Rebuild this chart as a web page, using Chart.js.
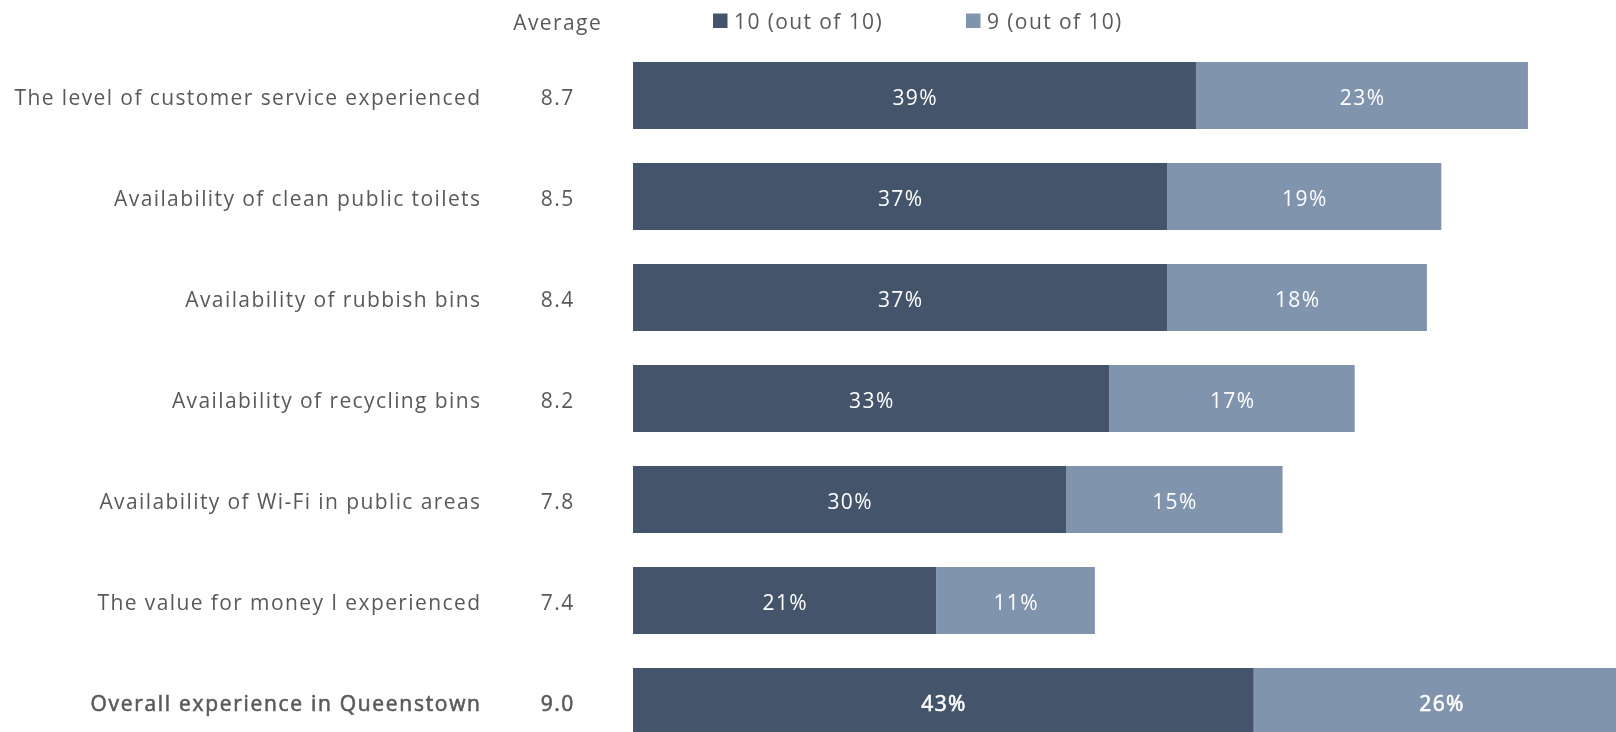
<!doctype html>
<html lang="en">
  <head>
    <meta charset="utf-8">
    <title>Experience ratings</title>
    <script src="https://cdn.jsdelivr.net/npm/chart.js@4.4.1/dist/chart.umd.min.js"></script>
    <style>
      html, body {
        margin: 0;
        padding: 0;
        background: #ffffff;
        overflow: hidden;
      }
      #wrap {
        position: absolute;
        left: 0;
        top: 0;
        width: 1616px;
        height: 752px;
      }
    </style>
  </head>
  <body>
    <div id="wrap">
      <canvas id="myChart" width="1616" height="752"></canvas>
    </div>
    <script>
      const categories = [
        'The level of customer service experienced',
        'Availability of clean public toilets',
        'Availability of rubbish bins',
        'Availability of recycling bins',
        'Availability of Wi-Fi in public areas',
        'The value for money I experienced',
        'Overall experience in Queenstown'
      ];
      const averages = ['8.7', '8.5', '8.4', '8.2', '7.8', '7.4', '9.0'];
      const tenValues = [39, 37, 37, 33, 30, 21, 43];
      const nineValues = [23, 19, 18, 17, 15, 11, 26];
      const seriesNames = ['10 (out of 10)', '9 (out of 10)'];
      const averageHeader = 'Average';

      const FONT = "'Open Sans', sans-serif";
      const SPACING = 1.4;
      const darkColor = '#44546a';
      const lightColor = '#8094ad';
      const textColor = '#595959';

      function setFont(ctx, spacing) {
        ctx.font = '400 21px ' + FONT;
        ctx.letterSpacing = spacing + 'px';
      }

      // medium weight faked with a thin outline
      function drawText(ctx, text, x, y, medium) {
        ctx.fillText(text, x, y);
        if (medium) {
          ctx.lineWidth = 0.6;
          ctx.strokeStyle = ctx.fillStyle;
          ctx.strokeText(text, x, y);
        }
      }

      // labels, averages column, header and legend drawn by hand
      const extrasPlugin = {
        id: 'extras',
        afterDatasetsDraw(chart) {
          const ctx = chart.ctx;
          ctx.save();
          ctx.fillStyle = '#ffffff';
          setFont(ctx, SPACING);
          ctx.textAlign = 'center';
          ctx.textBaseline = 'middle';
          chart.data.datasets.forEach((ds, di) => {
            chart.getDatasetMeta(di).data.forEach((bar, i) => {
              const last = i === categories.length - 1;
              drawText(ctx, ds.data[i] + '%', (bar.x + bar.base) / 2 + SPACING / 2, bar.y + 3.5, last);
            });
          });
          ctx.restore();
        },
        afterDraw(chart) {
          const ctx = chart.ctx;
          const y = chart.scales.y;
          const last = categories.length - 1;
          ctx.save();
          ctx.textBaseline = 'middle';
          ctx.fillStyle = textColor;

          ctx.textAlign = 'right';
          chart.data.labels.forEach((lab, i) => {
            const sp = i === last ? SPACING + 0.3 : SPACING;
            setFont(ctx, sp);
            drawText(ctx, lab, 480 + sp, y.getPixelForValue(i) + 3.5, i === last);
          });

          ctx.textAlign = 'center';
          averages.forEach((a, i) => {
            setFont(ctx, SPACING);
            drawText(ctx, a, 557 + SPACING / 2, y.getPixelForValue(i) + 3.5, i === last);
          });
          setFont(ctx, SPACING);
          ctx.fillText(averageHeader, 557 + SPACING / 2, 24);

          // legend
          const legendX = [713, 966];
          ctx.textAlign = 'left';
          chart.data.datasets.forEach((ds, di) => {
            ctx.fillStyle = ds.backgroundColor;
            ctx.fillRect(legendX[di], 13.5, 14.5, 14.5);
            ctx.fillStyle = textColor;
            ctx.fillText(ds.label, legendX[di] + 21, 23);
          });
          ctx.restore();
        }
      };

      const ctx = document.getElementById('myChart').getContext('2d');
      const myChart = new Chart(ctx, {
        type: 'bar',
        data: {
          labels: categories,
          datasets: [
            {
              label: seriesNames[0],
              data: tenValues,
              backgroundColor: darkColor,
              borderWidth: 0
            },
            {
              label: seriesNames[1],
              data: nineValues,
              backgroundColor: lightColor,
              borderWidth: 0
            }
          ]
        },
        options: {
          indexAxis: 'y',
          responsive: false,
          animation: false,
          categoryPercentage: 1,
          barPercentage: 0.663,
          layout: {
            padding: { top: 45, left: 633, right: 0, bottom: 0 }
          },
          plugins: {
            legend: { display: false },
            tooltip: { enabled: false }
          },
          scales: {
            x: {
              stacked: true,
              display: false,
              min: 0,
              max: 68.1
            },
            y: {
              stacked: true,
              display: false
            }
          }
        },
        plugins: [extrasPlugin]
      });
    </script>
  </body>
</html>
